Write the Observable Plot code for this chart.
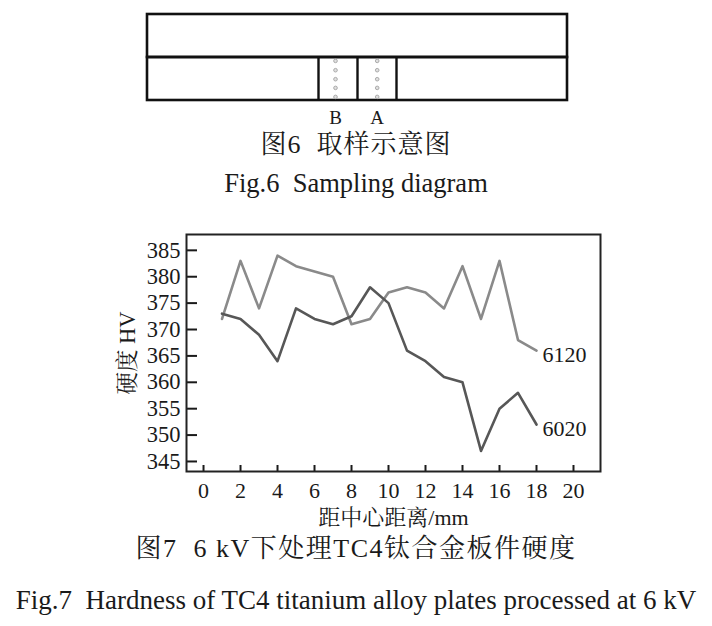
<!DOCTYPE html>
<html><head><meta charset="utf-8">
<script src="https://cdn.jsdelivr.net/npm/d3@7"></script>
<script src="https://cdn.jsdelivr.net/npm/@observablehq/plot@0.6"></script>
<style>
html,body{margin:0;padding:0;background:#fff;}
#page{position:relative;width:712px;height:626px;overflow:hidden;font-family:"Liberation Serif","Noto Serif CJK SC","Noto Sans CJK SC",serif;color:#1a1a1a;}
.cap{position:absolute;left:0;width:712px;text-align:center;white-space:nowrap;line-height:1;}
#diagram{position:absolute;left:0;top:0;}
#chart{position:absolute;left:0;top:220px;}
</style></head><body>
<div id="page">
<div id="diagram"></div>
<div class="cap" style="top:132px;font-size:26px;letter-spacing:1px;">图6&nbsp;&nbsp;取样示意图</div>
<div class="cap" style="top:170px;font-size:26.5px;">Fig.6&nbsp;&nbsp;Sampling diagram</div>
<div id="chart"></div>
<div class="cap" style="top:536px;font-size:26px;letter-spacing:1.5px;">图7&nbsp;&nbsp;6 kV下处理TC4钛合金板件硬度</div>
<div class="cap" style="top:587px;font-size:27px;">Fig.7&nbsp;&nbsp;Hardness of TC4 titanium alloy plates processed at 6 kV</div>
</div>
<script>
// ---- Chart data (Fig.7) ----
const distance = [1,2,3,4,5,6,7,8,9,10,11,12,13,14,15,16,17,18];
const hv6120 = [372,383,374,384,382,381,380,371,372,377,378,377,374,382,372,383,368,366];
const hv6020 = [373,372,369,364,374,372,371,372.5,378,375,366,364,361,360,347,355,358,352];
const seriesNames = ["6120","6020"];
const seriesColors = ["#8a8a8a","#575757"];
const xTicks = [0,2,4,6,8,10,12,14,16,18,20];
const yTicks = [345,350,355,360,365,370,375,380,385];

// ---- Sampling diagram data (Fig.6), in diagram units ----
const plateRows = [{y1:0,y2:43},{y1:43,y2:86}];
const plateLength = 420;
const sampleEdges = [171,210,249];
const sampleLabels = [{name:"B",x:188},{name:"A",x:229.7}];
const dotDepths = [46.4,55.7,64.7,73.4,82.4];

const serif = '"Liberation Serif","Noto Serif CJK SC","Noto Sans CJK SC",serif';

// Diagram
const dotData = sampleLabels.flatMap(s => dotDepths.map(d => ({x:s.x, y:d})));
const diagram = Plot.plot({
  width:712, height:130,
  x:{domain:[0,plateLength], range:[147,567]},
  y:{domain:[0,86], range:[14,100]},
  axis:null,
  style:{fontFamily:serif, background:"transparent", color:"#1a1a1a"},
  marks:[
    Plot.rect(plateRows.map(r=>({...r,x1:0,x2:plateLength})), {x1:"x1",x2:"x2",y1:"y1",y2:"y2",fill:"none",stroke:"#111",strokeWidth:2.6}),
    Plot.ruleX(sampleEdges, {y1:43, y2:86, stroke:"#111", strokeWidth:2.4}),
    Plot.dot(dotData, {x:"x", y:"y", r:1.8, stroke:"#aaa", fill:"#e0e0e0", strokeWidth:1}),
    Plot.text(sampleLabels, {x:"x", y:103, text:"name", fontSize:19, fill:"#1a1a1a"})
  ]
});
document.getElementById("diagram").append(diagram);

// Chart
const table = seriesNames.flatMap((s,i) => distance.map((d,j) => ({series:s, distance:d, hv:(i===0?hv6120:hv6020)[j]})));
const chart = Plot.plot({
  width:712, height:310,
  marginLeft:186, marginRight:112, marginTop:14, marginBottom:59,
  x:{domain:[-0.92,21.46]},
  y:{domain:[343.1,388]},
  color:{domain:seriesNames, range:seriesColors},
  style:{fontFamily:serif, fontSize:"22px", background:"transparent", color:"#1a1a1a"},
  marks:[
    Plot.axisY({ticks:yTicks, tickSize:-11, tickPadding:17, strokeWidth:2, fontSize:22.5,
      label:"硬度 HV", labelAnchor:"center", labelOffset:67, labelArrow:false}),
    Plot.axisX({ticks:xTicks, tickSize:-6, tickPadding:17, strokeWidth:2, fontSize:22,
      label:"距中心距离/mm", labelAnchor:"center", labelOffset:53, labelArrow:false}),
    Plot.line(table, {x:"distance", y:"hv", z:"series", stroke:"series", strokeWidth:2.6, curve:"linear"}),
    Plot.text(table, Plot.selectLast({x:"distance", y:"hv", z:"series", text:"series", textAnchor:"start", dx:6, dy:4, fontSize:22, fill:"#1a1a1a"})),
    Plot.frame({stroke:"#222", strokeWidth:2})
  ]
});
document.getElementById("chart").append(chart);
</script>
</body></html>
